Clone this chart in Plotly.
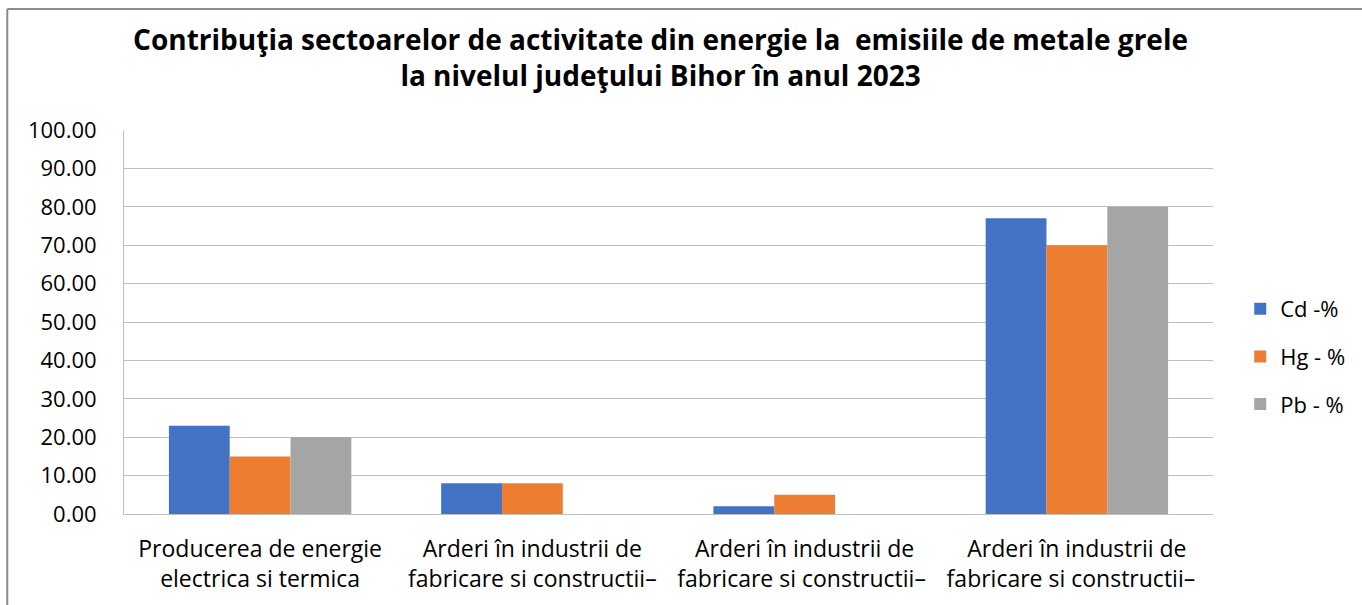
import plotly.graph_objects as go

categories = [
    "Producerea de energie<br>electrica si termica",
    "Arderi în industrii de<br>fabricare si constructii–",
    "Arderi în industrii de<br>fabricare si constructii– ",
    "Arderi în industrii de<br>fabricare si constructii–  ",
]
cd_values = [23, 8, 2, 77]
hg_values = [15, 8, 5, 70]
pb_values = [20, 0, 0, 80]
series_names = ["Cd -%", "Hg - %", "Pb - %"]
colors = ["#4472C4", "#ED7D31", "#A5A5A5"]

fig = go.Figure()
for name, vals, col in zip(series_names, [cd_values, hg_values, pb_values], colors):
    fig.add_trace(go.Bar(x=categories, y=vals, name=name, marker_color=col,
                         marker_line_width=0, legendgroup=name))

font_family = "'Open Sans', Lato, sans-serif"
grid = "#BFBFBF"
fig.update_layout(
    width=1362, height=605,
    margin=dict(l=124, r=147, t=130, b=91),
    paper_bgcolor="white", plot_bgcolor="white",
    barmode="group", bargap=0.33, bargroupgap=0,
    title=dict(
        text="<b>Contribuţia sectoarelor de activitate din energie la  emisiile de metale grele<br>la nivelul judeţului Bihor în anul 2023</b>",
        x=0.485, xanchor="center", y=0.918, yanchor="top",
        font=dict(family=font_family, size=28, color="#000000"),
    ),
    font=dict(family=font_family, size=22, color="#000000"),
    xaxis=dict(showgrid=False, showline=True, linecolor=grid, linewidth=1,
               ticks="", tickfont=dict(size=23), fixedrange=True,
               ticklabelstandoff=14),
    yaxis=dict(range=[0, 100], dtick=10, tickformat=".2f", showgrid=True,
               gridcolor=grid, gridwidth=1, showline=True, linecolor=grid,
               zeroline=False, ticks="", tickfont=dict(size=22),
               ticklabelstandoff=22),
    legend=dict(x=1.025, y=0.41, xanchor="left", yanchor="middle",
                font=dict(size=22), tracegroupgap=16, bgcolor="rgba(0,0,0,0)"),
    showlegend=True,
    shapes=[
        dict(type="line", xref="paper", yref="paper", x0=-0.1072, x1=-0.1072,
             y0=-0.3, y1=1.315, line=dict(color="#8C8C8C", width=2)),
        dict(type="line", xref="paper", yref="paper", x0=-0.1072, x1=1.2,
             y0=1.315, y1=1.315, line=dict(color="#8C8C8C", width=2)),
    ],
)

fig.write_html("out.html", config={"displayModeBar": False},
               post_script="document.body.style.margin='0';")
